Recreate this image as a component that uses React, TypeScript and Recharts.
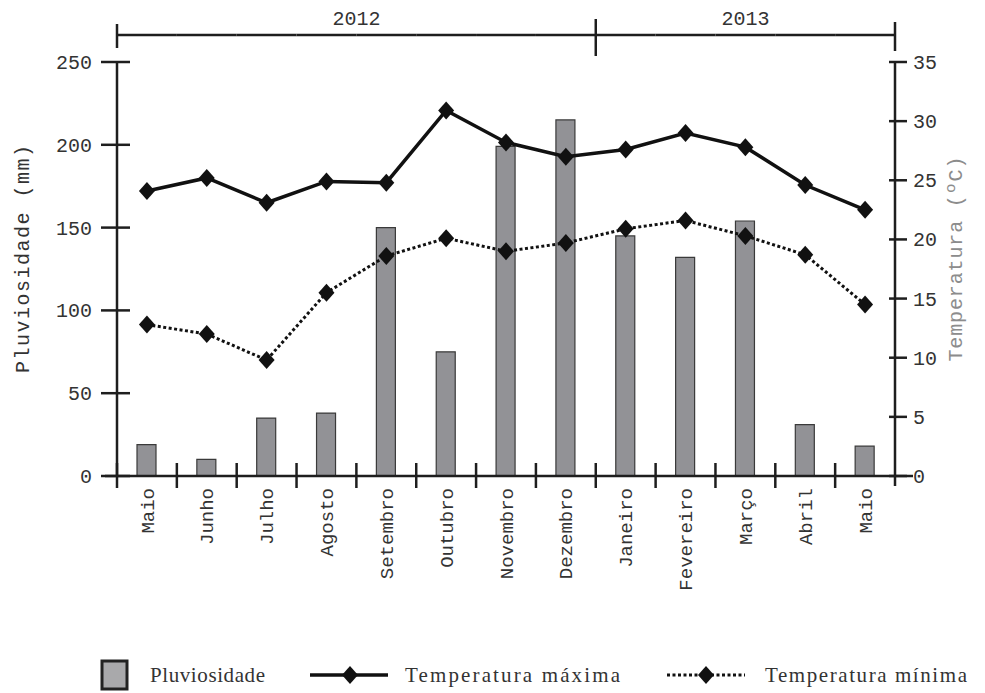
import { ComposedChart, Bar, Line, XAxis, YAxis, Legend } from 'recharts';

const months = ['Maio', 'Junho', 'Julho', 'Agosto', 'Setembro', 'Outubro', 'Novembro', 'Dezembro', 'Janeiro', 'Fevereiro', 'Março', 'Abril', 'Maio'];
const rainfall = [19, 10, 35, 38, 150, 75, 199, 215, 145, 132, 154, 31, 18];
const tempMax = [24.1, 25.2, 23.1, 24.9, 24.8, 30.9, 28.2, 27.0, 27.6, 29.0, 27.8, 24.6, 22.5];
const tempMin = [12.8, 12.0, 9.8, 15.5, 18.6, 20.1, 19.0, 19.7, 20.9, 21.6, 20.3, 18.7, 14.5];
const yearLabels = ['2012', '2013'];
const yearFirstMonth = [0, 8];
const rainTicks = [0, 50, 100, 150, 200, 250];
const tempTicks = [0, 5, 10, 15, 20, 25, 30, 35];

const data = months.map((month, i) => ({
  month,
  rain: rainfall[i],
  tmax: tempMax[i],
  tmin: tempMin[i],
}));

const W = 985;
const H = 693;
const PLOT_LEFT = 117;
const PLOT_RIGHT = 895;
const PLOT_TOP = 62;
const PLOT_BOTTOM = 476;
const BAND = (PLOT_RIGHT - PLOT_LEFT) / months.length;
const FONT = '"Liberation Mono", "DejaVu Sans Mono", monospace';
const INK = '#1e1e1e';
const TEXT = '#333';

function MonthTick({ x, payload, index }: any) {
  const left = x - BAND / 2;
  const last = index === months.length - 1;
  const ty = PLOT_BOTTOM + 12;
  return (
    <g>
      <line x1={left} x2={left} y1={PLOT_BOTTOM - 13} y2={PLOT_BOTTOM + 12} stroke={INK} strokeWidth={2.5} />
      {index === 0 && <line x1={PLOT_LEFT - 12} x2={PLOT_LEFT} y1={PLOT_BOTTOM} y2={PLOT_BOTTOM} stroke={INK} strokeWidth={2.5} />}
      {last && <line x1={PLOT_RIGHT} x2={PLOT_RIGHT + 18} y1={PLOT_BOTTOM} y2={PLOT_BOTTOM} stroke={INK} strokeWidth={2.5} />}
      {last && <line x1={PLOT_RIGHT} x2={PLOT_RIGHT} y1={PLOT_BOTTOM} y2={PLOT_BOTTOM + 10} stroke={INK} strokeWidth={2.5} />}
      <text
        x={x}
        y={ty}
        dy="0.35em"
        transform={`rotate(-90, ${x}, ${ty})`}
        textAnchor="end"
        fontFamily={FONT}
        fontSize={19}
        fill={TEXT}
      >
        {payload.value}
      </text>
    </g>
  );
}

function YearTick({ x, index }: any) {
  const left = x - BAND / 2;
  const right = x + BAND / 2;
  const k = yearFirstMonth.indexOf(index);
  const last = index === months.length - 1;
  let label = null;
  if (k >= 0) {
    const end = k + 1 < yearFirstMonth.length ? yearFirstMonth[k + 1] : months.length;
    const cx = left + (BAND * (end - index)) / 2;
    label = (
      <text x={cx} y={18} dy="0.35em" textAnchor="middle" fontFamily={FONT} fontSize={20} fill={TEXT}>
        {yearLabels[k]}
      </text>
    );
  }
  return (
    <g>
      <line x1={left} x2={right} y1={35} y2={35} stroke={INK} strokeWidth={2.5} />
      {k === 0 && <line x1={left} x2={left} y1={24} y2={48} stroke={INK} strokeWidth={2.5} />}
      {k > 0 && <line x1={left} x2={left} y1={19} y2={56} stroke={INK} strokeWidth={2.5} />}
      {last && <line x1={right} x2={right} y1={22} y2={51} stroke={INK} strokeWidth={2.5} />}
      {label}
    </g>
  );
}

function RainTick({ y, payload }: any) {
  return (
    <g>
      <line x1={PLOT_LEFT - 16} x2={PLOT_LEFT + 13} y1={y} y2={y} stroke={INK} strokeWidth={2.5} />
      <text x={PLOT_LEFT - 25} y={y} dy="0.35em" textAnchor="end" fontFamily={FONT} fontSize={20} fill={TEXT}>
        {payload.value}
      </text>
    </g>
  );
}

function TempTick({ y, payload }: any) {
  return (
    <g>
      <line x1={PLOT_RIGHT - 6} x2={PLOT_RIGHT + 12} y1={y} y2={y} stroke={INK} strokeWidth={2.5} />
      <text x={PLOT_RIGHT + 18} y={y} dy="0.35em" textAnchor="start" fontFamily={FONT} fontSize={20} fill={TEXT}>
        {payload.value}
      </text>
    </g>
  );
}

function AxisTitle({ cx, text, color, length }: any) {
  const cy = (PLOT_TOP + PLOT_BOTTOM) / 2 - 10;
  return (
    <text
      x={cx}
      y={cy}
      dy="0.35em"
      transform={`rotate(-90, ${cx}, ${cy})`}
      textAnchor="middle"
      fontFamily={FONT}
      fontSize={20}
      fill={color}
      textLength={length}
      lengthAdjust="spacing"
    >
      {text}
    </text>
  );
}

function Diamond({ cx, cy }: any) {
  if (cx == null || cy == null) return null;
  return <polygon points={`${cx},${cy - 9} ${cx + 8},${cy} ${cx},${cy + 9} ${cx - 8},${cy}`} fill="#111" />;
}

function LegendBox() {
  const cy = 18;
  const legendFont = '"Liberation Serif", serif';
  return (
    <svg width={W} height={36} style={{ display: 'block' }}>
      <rect x={102} y={4} width={25} height={28} fill="#a9a9ab" stroke="#222" strokeWidth={3} />
      <text x={150} y={cy} dy="0.35em" fontFamily={legendFont} fontSize={21} fill={TEXT} textLength={115} lengthAdjust="spacing">
        Pluviosidade
      </text>
      <line x1={310} x2={388} y1={cy} y2={cy} stroke="#111" strokeWidth={3.5} />
      <Diamond cx={350} cy={cy} />
      <text x={405} y={cy} dy="0.35em" fontFamily={legendFont} fontSize={21} fill={TEXT} textLength={215} lengthAdjust="spacing">
        Temperatura máxima
      </text>
      <line x1={667} x2={745} y1={cy} y2={cy} stroke="#111" strokeWidth={3} strokeDasharray="3 2.5" />
      <Diamond cx={706} cy={cy} />
      <text x={765} y={cy} dy="0.35em" fontFamily={legendFont} fontSize={21} fill={TEXT} textLength={202} lengthAdjust="spacing">
        Temperatura mínima
      </text>
    </svg>
  );
}

export default function App() {
  return (
    <div style={{ width: W, height: H, background: '#fff' }}>
      <style>{'body{margin:0}'}</style>
      <ComposedChart width={W} height={H} data={data} margin={{ top: 22, right: 0, bottom: 0, left: 0 }}>
        <XAxis
          xAxisId="years"
          orientation="top"
          dataKey="month"
          height={40}
          interval={0}
          axisLine={false}
          tickLine={false}
          tick={<YearTick />}
        />
        <XAxis
          dataKey="month"
          height={181}
          interval={0}
          axisLine={{ stroke: INK, strokeWidth: 2.5 }}
          tickLine={false}
          tick={<MonthTick />}
        />
        <YAxis
          yAxisId="rain"
          domain={[0, 250]}
          ticks={rainTicks}
          width={117}
          axisLine={{ stroke: INK, strokeWidth: 2.5 }}
          tickLine={false}
          tick={<RainTick />}
          label={<AxisTitle cx={22} text="Pluviosidade (mm)" color={TEXT} length={228} />}
        />
        <YAxis
          yAxisId="temp"
          orientation="right"
          domain={[0, 35]}
          ticks={tempTicks}
          width={90}
          axisLine={{ stroke: INK, strokeWidth: 2.5 }}
          tickLine={false}
          tick={<TempTick />}
          label={<AxisTitle cx={955} text="Temperatura (ºC)" color="#8c8c8c" length={205} />}
        />
        <Bar
          yAxisId="rain"
          dataKey="rain"
          name="Pluviosidade"
          barSize={19}
          fill="#929296"
          stroke="#3a3a3a"
          strokeWidth={1.2}
          isAnimationActive={false}
        />
        <Line
          yAxisId="temp"
          dataKey="tmax"
          name="Temperatura máxima"
          stroke="#111"
          strokeWidth={3.5}
          dot={<Diamond />}
          activeDot={false}
          isAnimationActive={false}
        />
        <Line
          yAxisId="temp"
          dataKey="tmin"
          name="Temperatura mínima"
          stroke="#111"
          strokeWidth={3}
          strokeDasharray="3 2.5"
          dot={<Diamond />}
          activeDot={false}
          isAnimationActive={false}
        />
        <Legend verticalAlign="bottom" height={36} wrapperStyle={{ left: 0, width: W }} content={() => <LegendBox />} />
      </ComposedChart>
    </div>
  );
}
